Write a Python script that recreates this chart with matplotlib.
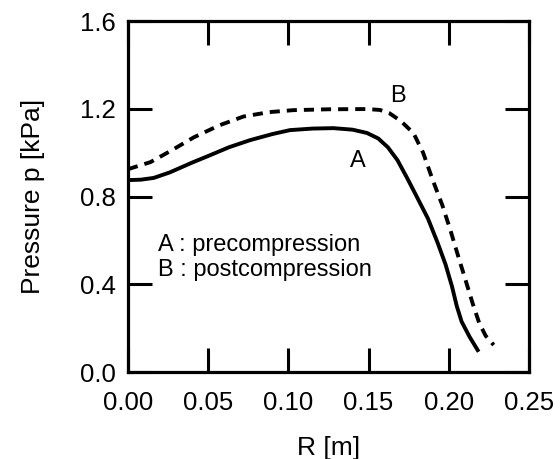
import matplotlib
matplotlib.use("Agg")
import matplotlib.pyplot as plt

plt.rcParams['font.family'] = ['Liberation Sans', 'DejaVu Sans']

# curve A: precompression (solid)
r_a = [0.0, 0.008, 0.016, 0.026, 0.040, 0.050, 0.063, 0.076, 0.090, 0.101,
       0.115, 0.128, 0.140, 0.149, 0.156, 0.162, 0.168, 0.174, 0.180, 0.187,
       0.193, 0.198, 0.202, 0.205, 0.208, 0.213, 0.218]
p_a = [0.875, 0.877, 0.885, 0.91, 0.955, 0.985, 1.025, 1.057, 1.085, 1.103,
       1.110, 1.112, 1.105, 1.09, 1.065, 1.025, 0.966, 0.885, 0.80, 0.70,
       0.59, 0.49, 0.39, 0.30, 0.23, 0.16, 0.10]

# curve B: postcompression (dashed)
r_b = [0.0, 0.014, 0.027, 0.041, 0.057, 0.072, 0.088, 0.103, 0.125, 0.149,
       0.157, 0.163, 0.170, 0.178, 0.184, 0.190, 0.196, 0.201, 0.206, 0.211,
       0.215, 0.219, 0.223, 0.228]
p_b = [0.925, 0.957, 1.01, 1.07, 1.125, 1.165, 1.185, 1.194, 1.198, 1.199,
       1.195, 1.18, 1.145, 1.089, 1.0, 0.875, 0.76, 0.647, 0.525, 0.406,
       0.31, 0.223, 0.165, 0.123]

x_ticks = [0.00, 0.05, 0.10, 0.15, 0.20, 0.25]
y_ticks = [0.0, 0.4, 0.8, 1.2, 1.6]

fig = plt.figure(figsize=(5.6, 4.59), dpi=100)
ax = fig.add_axes([0.2286, 0.1895, 0.716, 0.7645])

ax.plot(r_a, p_a, color='black', lw=2.8, solid_joinstyle='round')
ax.plot(r_b, p_b, color='black', lw=2.8, linestyle=(0, (2.6, 1.8)))

ax.text(0.143, 0.96, 'A', fontsize=17, ha='center', va='center')
ax.text(0.168, 1.26, 'B', fontsize=17, ha='center', va='center')
ax.text(0.019, 0.58, 'A : precompression', fontsize=17, va='center')
ax.text(0.019, 0.465, 'B : postcompression', fontsize=17, va='center')

ax.set_xlim(0, 0.25)
ax.set_ylim(0, 1.6)
ax.set_xticks(x_ticks)
ax.set_yticks(y_ticks)
ax.set_xticklabels([f'{v:.2f}' for v in x_ticks])
ax.set_yticklabels([f'{v:.1f}' for v in y_ticks])
ax.tick_params(direction='in', length=17, width=2.2, labelsize=18.5,
               top=True, right=True)
ax.tick_params(axis='x', pad=14)
ax.tick_params(axis='y', pad=9)
for s in ax.spines.values():
    s.set_linewidth(2.3)

ax.set_xlabel('R [m]', fontsize=19, labelpad=15)
ax.set_ylabel('Pressure p [kPa]', fontsize=19, labelpad=25)

fig.savefig('out.png', dpi=100)
